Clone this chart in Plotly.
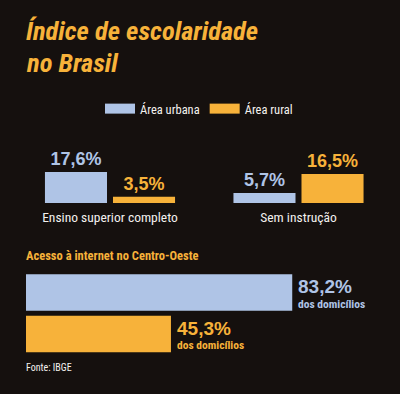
import plotly.graph_objects as go

# ---------------- data ----------------
series_names = ["Área urbana", "Área rural"]
edu_categories = ["Ensino superior completo", "Sem instrução"]
urban_edu = [17.6, 5.7]
rural_edu = [3.5, 16.5]
internet_categories = ["Área urbana", "Área rural"]
internet_values = [83.2, 45.3]
internet_suffix = "dos domicílios"
title_lines = ["Índice de escolaridade", "no Brasil"]
internet_title = "Acesso à internet no Centro-Oeste"
source_text = "Fonte: IBGE"

# ---------------- style ----------------
BG = "#15100e"
BLUE = "#afc4e6"
ORANGE = "#f7b23a"
WHITE = "#f4f1ee"
COND = "Roboto Condensed, DejaVu Sans Condensed, sans-serif"
NUM = "Liberation Sans, Arial, sans-serif"
colors = [BLUE, ORANGE]

W, H = 400, 394


def py(y):
    return 1 - y / H


fig = go.Figure()

# education grouped bars
for name, vals, col in zip(series_names, [urban_edu, rural_edu], colors):
    fig.add_bar(
        x=edu_categories, y=vals, name=name,
        marker=dict(color=col, line=dict(width=0)),
        texttemplate="%{y:.1f}%", textposition="outside",
        textfont=dict(family=NUM, size=18, color=col, weight="bold"),
        cliponaxis=False, showlegend=False, hoverinfo="skip",
        xaxis="x", yaxis="y",
    )

# legend entries
for name, col in zip(series_names, colors):
    fig.add_scatter(
        x=[None], y=[None], mode="lines", name=name,
        line=dict(color=col, width=11), hoverinfo="skip",
        xaxis="x", yaxis="y",
    )

# internet horizontal bars
fig.add_bar(
    x=internet_values, y=internet_categories, orientation="h",
    marker=dict(color=colors, line=dict(width=0)), width=0.88,
    showlegend=False, hoverinfo="skip", xaxis="x2", yaxis="y2",
)

annotations = []
for cat, v, col in zip(internet_categories, internet_values, colors):
    num = f"{v:.1f}%".replace(".", ",")
    annotations.append(dict(
        x=v, y=cat, xref="x2", yref="y2", xanchor="left", yanchor="middle",
        xshift=4, yshift=6, showarrow=False, text=num,
        font=dict(family=NUM, size=19, color=col, weight="bold"),
    ))
    annotations.append(dict(
        x=v, y=cat, xref="x2", yref="y2", xanchor="left", yanchor="middle",
        xshift=4, yshift=-11, showarrow=False, text=internet_suffix,
        font=dict(family=COND, size=11.5, color=col, weight="bold"),
    ))

# titles and texts
for line, yc in zip(title_lines, [31, 62]):
    annotations.append(dict(
        x=24 / W, y=py(yc), xref="paper", yref="paper", xanchor="left", yanchor="middle",
        showarrow=False, text=line,
        font=dict(family=COND, size=26.5, color=ORANGE, weight="bold", style="italic"),
    ))
annotations.append(dict(
    x=24 / W, y=py(256), xref="paper", yref="paper", xanchor="left", yanchor="middle",
    showarrow=False, text=internet_title,
    font=dict(family=COND, size=12.5, color=ORANGE, weight="bold"),
))
annotations.append(dict(
    x=24 / W, y=py(367), xref="paper", yref="paper", xanchor="left", yanchor="middle",
    showarrow=False, text=source_text,
    font=dict(family=COND, size=10, color=WHITE),
))

fig.update_layout(
    width=W, height=H,
    margin=dict(l=0, r=0, t=0, b=0),
    paper_bgcolor=BG, plot_bgcolor=BG,
    barmode="group", bargap=0.278, bargroupgap=0.088,
    separators=",.",
    showlegend=True,
    legend=dict(
        orientation="h", x=100 / W, xanchor="left", y=py(109), yanchor="middle",
        font=dict(family=COND, size=12.5, color=WHITE),
        bgcolor="rgba(0,0,0,0)", itemclick=False, itemdoubleclick=False,
    ),
    xaxis=dict(
        domain=[15.75 / W, 392.75 / W], range=[-0.5, 1.5],
        showgrid=False, zeroline=False, showline=False, ticks="",
        ticklabelstandoff=4,
        tickfont=dict(family=COND, size=13.5, color=WHITE), fixedrange=True,
    ),
    yaxis=dict(domain=[py(203), py(167.8)], range=[0, 20], visible=False, fixedrange=True),
    xaxis2=dict(domain=[26 / W, 346 / W], range=[0, 100], visible=False, anchor="y2", fixedrange=True),
    yaxis2=dict(domain=[py(354.75), py(271.75)], range=[1.5, -0.5], visible=False,
                anchor="x2", type="category", fixedrange=True),
    annotations=annotations,
    hovermode=False,
)

fig.write_html("out.html", config=dict(displayModeBar=False),
               post_script="document.body.style.margin='0';")
